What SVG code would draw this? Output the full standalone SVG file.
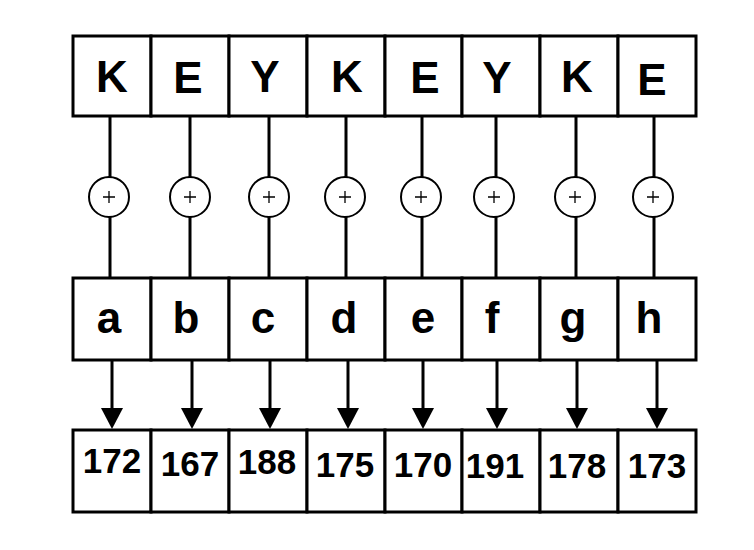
<svg xmlns="http://www.w3.org/2000/svg" width="754" height="550" viewBox="0 0 754 550">
<defs>
<style>
.box{fill:#fff;stroke:#000;stroke-width:3}
.ln{stroke:#000;stroke-width:3;fill:none}
.xor{fill:#fff;stroke:#000;stroke-width:2}
.plus{stroke:#000;stroke-width:1.3}
.big{font-family:"Liberation Sans",Arial,sans-serif;font-weight:bold;font-size:44px;text-anchor:middle;fill:#000}
.num{font-family:"Liberation Sans",Arial,sans-serif;font-weight:bold;font-size:35px;text-anchor:middle;fill:#000}
</style>
<g id="xorsym"><circle r="20" class="xor"/><path d="M-6,0 H6 M0,-6 V6" class="plus"/></g>
</defs>
<rect width="754" height="550" fill="#fff"/>
<g id="connectors">
<path class="ln" d="M110,116 V278 M190,116 V278 M269,116 V278 M346,116 V278 M422,116 V278 M496,116 V278 M576,116 V278 M654,116 V278"/>
<path class="ln" d="M112,360 V410 M192,360 V410 M270,360 V410 M348,360 V410 M423,360 V410 M497,360 V410 M577,360 V410 M657,360 V410"/>
<g>
<path d="M101,408 L123,408 L112,429 Z"/>
<path d="M181,408 L203,408 L192,429 Z"/>
<path d="M259,408 L281,408 L270,429 Z"/>
<path d="M337,408 L359,408 L348,429 Z"/>
<path d="M412,408 L434,408 L423,429 Z"/>
<path d="M486,408 L508,408 L497,429 Z"/>
<path d="M566,408 L588,408 L577,429 Z"/>
<path d="M646,408 L668,408 L657,429 Z"/>
</g>
</g>
<g id="xors">
<use href="#xorsym" x="109" y="197"/>
<use href="#xorsym" x="190" y="197"/>
<use href="#xorsym" x="269" y="197"/>
<use href="#xorsym" x="345" y="197"/>
<use href="#xorsym" x="421" y="197"/>
<use href="#xorsym" x="494" y="197"/>
<use href="#xorsym" x="575" y="197"/>
<use href="#xorsym" x="653" y="197"/>
</g>
<g id="key-row">
<g id="k1"><rect class="box" x="73" y="36" width="78" height="80"/><text class="big" x="112" y="92">K</text></g>
<g id="k2"><rect class="box" x="151" y="36" width="78" height="80"/><text class="big" x="188" y="93">E</text></g>
<g id="k3"><rect class="box" x="229" y="36" width="78" height="80"/><text class="big" x="265" y="92">Y</text></g>
<g id="k4"><rect class="box" x="307" y="36" width="78" height="80"/><text class="big" x="347" y="92">K</text></g>
<g id="k5"><rect class="box" x="385" y="36" width="77" height="80"/><text class="big" x="425" y="93">E</text></g>
<g id="k6"><rect class="box" x="462" y="36" width="78" height="80"/><text class="big" x="497" y="93">Y</text></g>
<g id="k7"><rect class="box" x="540" y="36" width="78" height="80"/><text class="big" x="577" y="92">K</text></g>
<g id="k8"><rect class="box" x="618" y="36" width="78" height="80"/><text class="big" x="652" y="95">E</text></g>
</g>
<g id="plain-row">
<g id="p1"><rect class="box" x="73" y="278" width="78" height="82"/><text class="big" x="109" y="333">a</text></g>
<g id="p2"><rect class="box" x="151" y="278" width="78" height="82"/><text class="big" x="186" y="333">b</text></g>
<g id="p3"><rect class="box" x="229" y="278" width="78" height="82"/><text class="big" x="263" y="333">c</text></g>
<g id="p4"><rect class="box" x="307" y="278" width="78" height="82"/><text class="big" x="344" y="333">d</text></g>
<g id="p5"><rect class="box" x="385" y="278" width="77" height="82"/><text class="big" x="423" y="333">e</text></g>
<g id="p6"><rect class="box" x="462" y="278" width="78" height="82"/><text class="big" x="492" y="333">f</text></g>
<g id="p7"><rect class="box" x="540" y="278" width="78" height="82"/><text class="big" x="573" y="333">g</text></g>
<g id="p8"><rect class="box" x="618" y="278" width="78" height="82"/><text class="big" x="649" y="333">h</text></g>
</g>
<g id="cipher-row">
<g id="c1"><rect class="box" x="73" y="430" width="78" height="82"/><text class="num" x="112" y="473">172</text></g>
<g id="c2"><rect class="box" x="151" y="430" width="78" height="82"/><text class="num" x="190" y="476">167</text></g>
<g id="c3"><rect class="box" x="229" y="430" width="78" height="82"/><text class="num" x="267" y="474">188</text></g>
<g id="c4"><rect class="box" x="307" y="430" width="78" height="82"/><text class="num" x="345" y="477">175</text></g>
<g id="c5"><rect class="box" x="385" y="430" width="77" height="82"/><text class="num" x="423" y="477">170</text></g>
<g id="c6"><rect class="box" x="462" y="430" width="78" height="82"/><text class="num" x="495" y="478">191</text></g>
<g id="c7"><rect class="box" x="540" y="430" width="78" height="82"/><text class="num" x="577" y="478">178</text></g>
<g id="c8"><rect class="box" x="618" y="430" width="78" height="82"/><text class="num" x="657" y="478">173</text></g>
</g>
</svg>
